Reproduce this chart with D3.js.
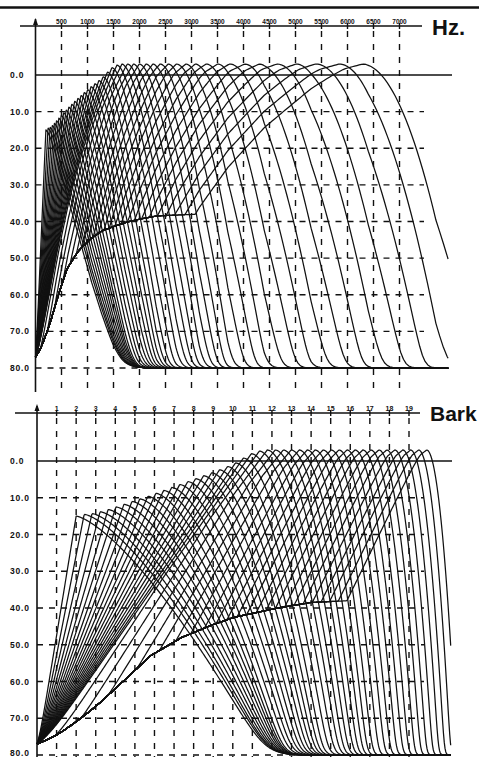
<!DOCTYPE html>
<html><head><meta charset="utf-8">
<script src="https://cdn.jsdelivr.net/npm/d3@7"></script>
<style>body{margin:0;background:#fff}svg{display:block}</style>
</head><body><svg id="c" width="479" height="757"></svg>
<script>
// ---------- data ----------
const hzTicks = [500,1000,1500,2000,2500,3000,3500,4000,4500,5000,5500,6000,6500,7000];
const barkTicks = [1,2,3,4,5,6,7,8,9,10,11,12,13,14,15,16,17,18,19];
const dbTicks = [0,10,20,30,40,50,60,70,80];
const dbLabels = ["0.0","10.0","20.0","30.0","40.0","50.0","60.0","70.0","80.0"];
// filter centres (Bark) and their peak gains (dB)
const filterBark = [2.00,2.41,2.81,3.22,3.63,4.03,4.44,4.85,5.25,5.66,6.07,6.47,6.88,7.29,7.70,8.10,8.51,8.92,9.32,9.73,
  10.14,10.54,10.95,11.36,11.76,12.17,12.58,12.98,13.39,13.80,14.20,14.61,15.02,15.42,15.83,16.24,16.64,17.05,17.46,17.86,
  18.27,18.68,19.08,19.49,19.90];
const filterPeakDb = [-15,-14.5,-14.3,-13.8,-13.2,-12.5,-11.8,-11,-10.3,-9.6,-8.8,-8,-7.2,-6.4,-5.6,-4.8,-4,-3.2,-2.4,-1.5,
  -0.5,0.8,2,2.7,3,3,3,3,3,3,3,3,3,3,3,3,3,3,3,3,3,3,3,3,3];
// upper skirt: width (Bark) at which it is 40 dB down, and its curvature power
const skirtBark = [2,6,10,14,20];
const skirtW40 = [6.8,4.5,3.0,2.0,1.05];
const skirtPow = [1.4,1.55,1.7,1.85,2.0];
// lower skirt slope (dB / Bark) near the peak
const lowerBark = [2,10,14,20];
const lowerSlopeDb = [7.5,7.5,10,11];
// common low-frequency tail (the ridge near -40 dB)
const ridgeBark = [0,1,2,3,4,5,5.8,7.4,9,10.1,12.3,14,16,21.2];
const ridgeDb = [-80,-76,-71.5,-67,-62,-57,-53,-48,-44.5,-42.5,-40,-38.5,-38,-36];
// critical band edges: Bark -> Hz
const bandBark = [0,1,2,3,4,5,6,7,8,9,10,11,12,13,14,15,16,17,18,19,20,21,22];
const bandHz = [0,100,200,300,400,510,630,770,920,1080,1270,1480,1720,2000,2320,2700,3150,3700,4400,5300,6400,7700,9500];
const lowerRound = 0.35, floorDb = -80, maxBark = 21.13;

// ---------- scales ----------
const svg = d3.select("#c");
svg.append("rect").attr("width",479).attr("height",757).attr("fill","#fff");
const barkToHz = d3.scaleLinear().domain(bandBark).range(bandHz);
const ridge = d3.scaleLinear().domain(ridgeBark).range(ridgeDb);
const w40 = d3.scaleLinear().domain(skirtBark).range(skirtW40).clamp(true);
const pw = d3.scaleLinear().domain(skirtBark).range(skirtPow).clamp(true);
const lowSl = d3.scaleLinear().domain(lowerBark).range(lowerSlopeDb).clamp(true);

const xHz = d3.scaleLinear().domain([0,7000]).range([35.5,399.5]);
const yTop = d3.scaleLinear().domain([0,80]).range([75,368]);
const xBk = d3.scaleLinear().domain([0,19]).range([37,409]);
const yBot = d3.scaleLinear().domain([0,80]).range([461,755]);

function response(c, P, z) {
  let v;
  if (z >= c) v = P - 40 * Math.pow((z - c) / w40(c), pw(c));
  else {
    const d = c - z;
    const main = P - lowSl(c) * (Math.sqrt(d*d + lowerRound*lowerRound) - lowerRound);
    const corner = floorDb + (P - floorDb) * z / c;
    v = Math.max(Math.min(main, corner), ridge(z));
  }
  return 10 * Math.log10(Math.pow(10, v/10) + Math.pow(10, floorDb/10));
}
const zs = d3.range(0, maxBark, 0.04).concat([maxBark]);
const curves = filterBark.map((c,i) => zs.map(z => ({z, db: -response(c, filterPeakDb[i], z)})));

const font = "'Liberation Sans', Arial, sans-serif";

// ---------- page rule ----------
svg.append("line").attr("x1",0).attr("x2",479).attr("y1",7.5).attr("y2",7.5)
  .attr("stroke","#111").attr("stroke-width",2.5);

function panel(opts) {
  const {x, y, ticks, tickLabels, axisY, axisX0, axisX1, gridBottom, yAxisTop, yAxisBottom, unit, unitX, unitY, unitSize, labelSize, xOf} = opts;
  const g = svg.append("g");
  dbTicks.forEach(t => {
    if (t === 0) {
      g.append("line").attr("x1",x.range()[0]).attr("x2",452).attr("y1",y(0)).attr("y2",y(0))
        .attr("stroke","#111").attr("stroke-width",1.6);
    } else {
      g.append("line").attr("x1",x.range()[0]).attr("x2",424).attr("y1",y(t)).attr("y2",y(t))
        .attr("stroke","#111").attr("stroke-width",1.4).attr("stroke-dasharray","6,6");
    }
  });
  ticks.forEach(t => {
    g.append("line").attr("x1",x(t)).attr("x2",x(t)).attr("y1",axisY+5).attr("y2",gridBottom)
      .attr("stroke","#111").attr("stroke-width",1.4).attr("stroke-dasharray","6,7");
  });
  g.append("line").attr("x1",axisX0).attr("x2",axisX1).attr("y1",axisY).attr("y2",axisY)
    .attr("stroke","#111").attr("stroke-width",1.6);
  g.append("line").attr("x1",x.range()[0]).attr("x2",x.range()[0]).attr("y1",yAxisTop).attr("y2",yAxisBottom)
    .attr("stroke","#111").attr("stroke-width",1.6);
  ticks.forEach(t => {
    g.append("line").attr("x1",x(t)).attr("x2",x(t)).attr("y1",axisY-3).attr("y2",axisY+3)
      .attr("stroke","#111").attr("stroke-width",1.4);
  });
  g.selectAll("text.tk").data(ticks).join("text").attr("class","tk")
    .attr("x",d=>x(d)).attr("y",axisY-2).attr("text-anchor","middle")
    .attr("font-family",font).attr("font-weight","bold").attr("font-size",labelSize)
    .attr("fill","#111").text((d,i)=>tickLabels[i]);
  g.selectAll("text.db").data(dbTicks).join("text").attr("class","db")
    .attr("x",10).attr("y",d=>Math.min(y(d)+3, 756)).attr("font-family",font).attr("font-weight","bold")
    .attr("font-size",8.5).attr("letter-spacing",0.8).attr("fill","#111").text((d,i)=>dbLabels[i]);
  g.append("text").attr("x",unitX).attr("y",unitY).attr("font-family",font).attr("font-weight","bold")
    .attr("font-size",unitSize).attr("fill","#111").text(unit);
  const line = d3.line().x(d => xOf(d.z)).y(d => y(d.db));
  g.append("g").selectAll("path").data(curves).join("path")
    .attr("d", line).attr("fill","none").attr("stroke","#111").attr("stroke-width",1.25)
    .attr("stroke-linejoin","round");
}

panel({x: xHz, y: yTop, ticks: hzTicks, tickLabels: hzTicks.map(String), axisY: 26, axisX0: 20, axisX1: 422,
  gridBottom: 390, yAxisTop: 19, yAxisBottom: 392, unit: "Hz.", unitX: 432, unitY: 35, unitSize: 22, labelSize: 6.5,
  xOf: z => xHz(barkToHz(z))});
panel({x: xBk, y: yBot, ticks: barkTicks, tickLabels: barkTicks.map(String), axisY: 413, axisX0: 15, axisX1: 420,
  gridBottom: 757, yAxisTop: 406, yAxisBottom: 757, unit: "Bark", unitX: 430, unitY: 421, unitSize: 21, labelSize: 7,
  xOf: z => xBk(z)});
[[35.5,18],[37,404]].forEach(([ax,ay]) => svg.append("path")
  .attr("d", d3.line()([[ax-2.5,ay+7],[ax,ay],[ax+2.5,ay+7]])).attr("fill","#111"));
</script></body></html>
